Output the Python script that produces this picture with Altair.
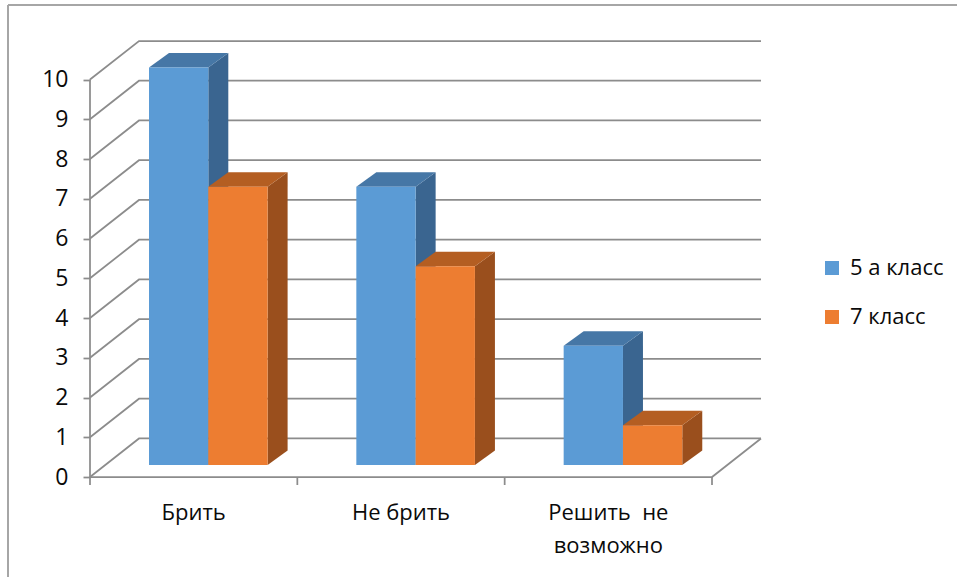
import altair as alt
import pandas as pd

# --- chart data -------------------------------------------------------------
categories = ["Брить", "Не брить", "Решить\u00a0 не\nвозможно"]
series = ["5 а класс", "7 класс"]
class_5a = [10, 7, 3]
class_7 = [7, 5, 1]
y_ticks = list(range(0, 11))

# --- colours ----------------------------------------------------------------
FRONT = ["#5B9BD5", "#ED7D31"]
TOP = ["#4677A6", "#B45E22"]
SIDE = ["#3A6590", "#9A4F1D"]
LINE = "#8C8C8C"
TEXT = "#0A0A0A"
FONT = "Open Sans"

# --- pseudo-3D geometry (x in category widths, y in value units) ------------
X_PX = 207.33            # pixels per category on the front edge
Y_PX = 39.7              # pixels per value unit
WALL_DX = 49 / X_PX      # depth of the floor/back wall
WALL_DY = 38.5 / Y_PX
BAR_BASE = 12 / Y_PX     # bars stand part-way into the floor
BAR_X0 = 59 / X_PX       # left edge of the first bar inside its category
BAR_W = 59.3 / X_PX
BAR_DX = 20 / X_PX       # bar depth
BAR_DY = 14.5 / Y_PX

n_cat = len(categories)
X_MAX = n_cat + WALL_DX
Y_MAX = y_ticks[-1] + WALL_DY
W = round(X_MAX * X_PX)
H = round(Y_MAX * Y_PX)

xs = alt.Scale(domain=[0, X_MAX], nice=False, zero=False)
ys = alt.Scale(domain=[0, Y_MAX], nice=False, zero=False)
y_axis = alt.Axis(values=y_ticks, title=None, domain=False, grid=False,
                  tickSize=7, tickColor=LINE, tickWidth=1.75,
                  labelFont=FONT, labelFontSize=23, labelColor=TEXT,
                  labelPadding=15)


def X(field):
    return alt.X(field, type="quantitative", scale=xs, axis=None)


def Y(field):
    return alt.Y(field, type="quantitative", scale=ys, axis=y_axis)


# back wall grid lines: diagonal from the front edge, then along the back
grid_rows = []
for v in y_ticks:
    grid_rows += [
        {"lvl": v, "x": 0.0, "y": v},
        {"lvl": v, "x": WALL_DX, "y": v + WALL_DY},
        {"lvl": v, "x": X_MAX, "y": v + WALL_DY},
    ]
grid = alt.Chart(pd.DataFrame(grid_rows)).mark_line(
    color=LINE, strokeWidth=1.75, clip=False
).encode(x=X("x"), y=Y("y"), detail="lvl:N")

# floor front and right edges
floor = alt.Chart(pd.DataFrame([
    {"x": 0.0, "y": 0.0},
    {"x": float(n_cat), "y": 0.0},
    {"x": X_MAX, "y": WALL_DY},
])).mark_line(color=LINE, strokeWidth=1.75).encode(x=X("x"), y=Y("y"))

# front value axis line
value_axis = alt.Chart(pd.DataFrame([{"x": 0.0, "y": 0.0, "y2": float(y_ticks[-1])}])).mark_rule(
    color=LINE, strokeWidth=1.75
).encode(x=X("x"), y=Y("y"), y2="y2")

# category boundary ticks
cat_ticks = alt.Chart(pd.DataFrame({"x": [float(i) for i in range(n_cat + 1)],
                                    "y": 0.0, "y2": -8 / Y_PX})).mark_rule(
    color=LINE, strokeWidth=1.75
).encode(x=X("x"), y=Y("y"), y2="y2")

# category labels
cat_labels = alt.Chart(pd.DataFrame({"x": [i + 0.5 for i in range(n_cat)],
                                     "y": -43 / Y_PX,
                                     "label": categories})).mark_text(
    font=FONT, fontSize=22, color=TEXT, align="center", baseline="alphabetic",
    lineBreak="\n", lineHeight=33
).encode(x=X("x"), y=Y("y"), text="label:N")

# bars: side, top and front faces of every series
bar_layers = []
for si, (name, vals) in enumerate(zip(series, [class_5a, class_7])):
    front_rows, side_rows, top_rows = [], [], []
    for ci, v in enumerate(vals):
        xl = ci + BAR_X0 + si * BAR_W
        xr = xl + BAR_W
        yb = BAR_BASE
        yt = BAR_BASE + v
        front_rows.append({"series": name, "value": v,
                           "x": xl, "x2": xr, "y": yb, "y2": yt})
        side_rows += [
            {"bar": ci, "x": xr, "y": yt, "y2": yb},
            {"bar": ci, "x": xr + BAR_DX, "y": yt + BAR_DY, "y2": yb + BAR_DY},
        ]
        top_rows += [
            {"bar": ci, "y": yt, "x": xl, "x2": xr},
            {"bar": ci, "y": yt + BAR_DY, "x": xl + BAR_DX, "x2": xr + BAR_DX},
        ]
    side = alt.Chart(pd.DataFrame(side_rows)).mark_area(
        color=SIDE[si], orient="vertical"
    ).encode(x=X("x"), y=Y("y"), y2="y2", detail="bar:N")
    top = alt.Chart(pd.DataFrame(top_rows)).mark_area(
        color=TOP[si], orient="horizontal"
    ).encode(y=Y("y"), x=X("x"), x2="x2", detail="bar:N")
    front = alt.Chart(pd.DataFrame(front_rows)).mark_rect().encode(
        x=X("x"), x2="x2", y=Y("y"), y2="y2",
        color=alt.Color("series:N", scale=alt.Scale(domain=series, range=FRONT),
                        legend=alt.Legend(title=None, orient="none",
                                          legendX=731, legendY=216,
                                          symbolType="square", symbolSize=196,
                                          symbolStrokeWidth=0,
                                          labelFont=FONT, labelFontSize=22,
                                          labelColor=TEXT, labelOffset=7,
                                          rowPadding=27, padding=0)),
    )
    bar_layers += [side, top, front]

# outer frame lines
frame_top = alt.Chart(pd.DataFrame([{"k": 0}])).mark_rule(
    color="#A6A6A6", strokeWidth=2
).encode(x=alt.value(8 - 90), x2=alt.value(957 - 90), y=alt.value(5 - 41))
frame_left = alt.Chart(pd.DataFrame([{"k": 0}])).mark_rule(
    color="#A6A6A6", strokeWidth=2
).encode(x=alt.value(8 - 90), y=alt.value(5 - 41), y2=alt.value(577 - 41))

chart = alt.layer(
    frame_top, frame_left, grid, floor, value_axis, cat_ticks, cat_labels,
    *bar_layers
).properties(
    width=W, height=H,
    padding={"left": 90, "top": 41, "right": 957 - 90 - W, "bottom": 577 - 41 - H},
    autosize=alt.AutoSizeParams(type="none"),
    background="white",
).configure_view(stroke=None)

chart.save("out.html", embed_options={"renderer": "svg", "actions": False})
